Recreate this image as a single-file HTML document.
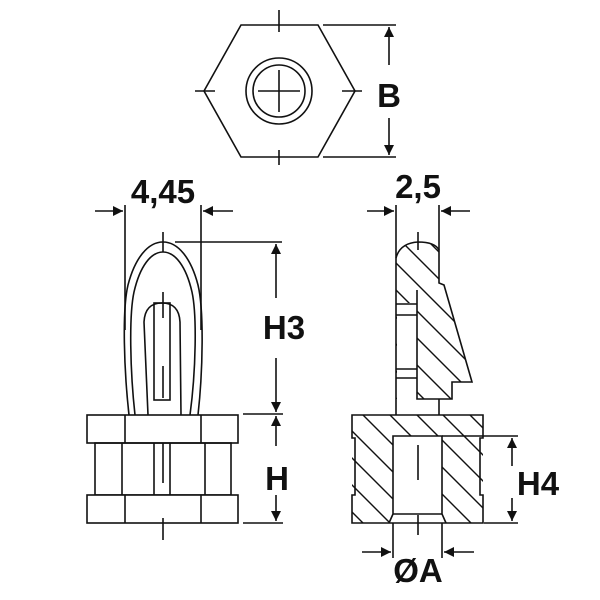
<!DOCTYPE html>
<html><head><meta charset="utf-8"><style>html,body{margin:0;padding:0;background:#fff}svg{display:block}</style></head><body>
<svg width="600" height="600" viewBox="0 0 600 600" xmlns="http://www.w3.org/2000/svg" font-family="Liberation Sans, Arial, sans-serif" font-weight="bold">
<defs>
<marker id="ar" viewBox="0 0 10 10" refX="10" refY="5" markerWidth="10" markerHeight="10" markerUnits="userSpaceOnUse" orient="auto"><path d="M0,0 L10,5 L0,10 z" fill="#111"/></marker>
<clipPath id="pinclip"><path d="M396,258 Q400,243 418,242 Q435,242 439,250 L439,283 L444,285 L472,382 L452,382 L452,399 L396,399 Z"/></clipPath>
<clipPath id="baseclip"><path d="M352,415 H483 V523 H352 Z M393,436 V514 L389,523 H446 L442,514 V436 Z" clip-rule="evenodd"/></clipPath>
</defs>
<g stroke="#111" stroke-width="1.6" fill="none">
<!-- hex -->
<polygon points="241,25 318,25 355,91 318,157 241,157 204,91" fill="#fff"/>
<circle cx="279" cy="91" r="33"/><circle cx="279" cy="91" r="26"/>
<line x1="258" y1="91" x2="300" y2="91"/><line x1="279" y1="70" x2="279" y2="112"/>
<line x1="279" y1="10" x2="279" y2="32"/><line x1="279" y1="150" x2="279" y2="165"/>
<line x1="195" y1="91" x2="215" y2="91"/><line x1="342" y1="91" x2="362" y2="91"/>
<line x1="323" y1="25" x2="396" y2="25"/><line x1="323" y1="157" x2="396" y2="157"/>
<line x1="389" y1="65" x2="389" y2="27" marker-end="url(#ar)"/>
<line x1="389" y1="118" x2="389" y2="155" marker-end="url(#ar)"/>

<!-- left view -->
<line x1="125" y1="205" x2="125" y2="330"/><line x1="201" y1="205" x2="201" y2="330"/>
<line x1="95" y1="211" x2="123" y2="211" marker-end="url(#ar)"/>
<line x1="233" y1="211" x2="203" y2="211" marker-end="url(#ar)"/>
<path d="M129,415 C124,370 122,310 128,285 C135,258 148,242 163,242 C178,242 191,258 198,285 C204,310 203,370 198,415"/>
<path d="M135,415 C130,370 129,315 134,292 C140,266 151,252 163,252 C175,252 186,266 192,292 C197,315 196,370 190,415"/>
<path d="M148,415 L144,322 Q145,303 162,303 Q179,303 180,322 L181,415"/>
<rect x="154" y="303" width="16" height="97"/>
<line x1="163" y1="232" x2="163" y2="252"/><line x1="163" y1="292" x2="163" y2="318"/><line x1="163" y1="366" x2="163" y2="398"/>
<rect x="87" y="415" width="151" height="28" fill="#fff"/><line x1="125" y1="415" x2="125" y2="443"/><line x1="201" y1="415" x2="201" y2="443"/>
<rect x="95" y="443" width="136" height="52"/>
<line x1="122" y1="443" x2="122" y2="495"/><line x1="154" y1="443" x2="154" y2="495"/><line x1="170" y1="443" x2="170" y2="495"/><line x1="205" y1="443" x2="205" y2="495"/>
<line x1="163" y1="443" x2="163" y2="483"/>
<rect x="87" y="495" width="151" height="28" fill="#fff"/><line x1="125" y1="495" x2="125" y2="523"/><line x1="201" y1="495" x2="201" y2="523"/>
<line x1="163" y1="518" x2="163" y2="540"/>
<line x1="175" y1="242" x2="282" y2="242"/><line x1="243" y1="414" x2="283" y2="414"/><line x1="243" y1="523" x2="283" y2="523"/>
<line x1="276" y1="298" x2="276" y2="244" marker-end="url(#ar)"/>
<line x1="276" y1="358" x2="276" y2="412" marker-end="url(#ar)"/>
<line x1="276" y1="446" x2="276" y2="416" marker-end="url(#ar)"/>
<line x1="276" y1="495" x2="276" y2="521" marker-end="url(#ar)"/>

<!-- right view -->
<line x1="396" y1="205" x2="396" y2="258"/><line x1="439" y1="205" x2="439" y2="250"/>
<line x1="367" y1="211" x2="394" y2="211" marker-end="url(#ar)"/>
<line x1="470" y1="211" x2="441" y2="211" marker-end="url(#ar)"/>
<g clip-path="url(#pinclip)" stroke-width="1.4">
<line x1="380" y1="220" x2="580" y2="420"/><line x1="353" y1="220" x2="553" y2="420"/><line x1="326" y1="220" x2="526" y2="420"/><line x1="299" y1="220" x2="499" y2="420"/><line x1="272" y1="220" x2="472" y2="420"/><line x1="245" y1="220" x2="445" y2="420"/><line x1="218" y1="220" x2="418" y2="420"/><line x1="407" y1="220" x2="607" y2="420"/>
</g>
<rect x="397" y="303" width="20" height="96" fill="#fff" stroke="none"/>
<path d="M396,258 Q400,243 418,242 Q435,242 439,250 L439,283 L444,285 L472,382 L452,382 L452,399 L417,399 L417,290"/>
<line x1="396" y1="258" x2="396" y2="415"/><line x1="439" y1="399" x2="439" y2="415"/>
<line x1="396" y1="304" x2="417" y2="304"/><line x1="396" y1="315" x2="417" y2="315"/>
<line x1="396" y1="369" x2="417" y2="369"/><line x1="396" y1="378" x2="417" y2="378"/>
<line x1="418" y1="232" x2="418" y2="250"/>
<g clip-path="url(#baseclip)" stroke-width="1.4">
<line x1="309" y1="415" x2="459" y2="565"/><line x1="336" y1="415" x2="486" y2="565"/><line x1="363" y1="415" x2="513" y2="565"/><line x1="390" y1="415" x2="540" y2="565"/><line x1="417" y1="415" x2="567" y2="565"/><line x1="443" y1="415" x2="593" y2="565"/><line x1="470" y1="415" x2="620" y2="565"/><line x1="282" y1="415" x2="432" y2="565"/><line x1="255" y1="415" x2="405" y2="565"/>
</g>
<path d="M352,415 H483 V438 H480 V495 H483 V523 H352 V495 H355 V438 H352 Z"/>
<path d="M393,514 V436 H442 V514 L446,523 M393,514 L389,523 M393,514 H442"/>
<line x1="418" y1="445" x2="418" y2="480"/>
<line x1="418" y1="515" x2="418" y2="535"/>
<line x1="442" y1="436" x2="518" y2="436"/><line x1="484" y1="523" x2="518" y2="523"/>
<line x1="512" y1="466" x2="512" y2="438" marker-end="url(#ar)"/>
<line x1="512" y1="498" x2="512" y2="521" marker-end="url(#ar)"/>
<line x1="393" y1="523" x2="393" y2="558"/><line x1="442" y1="523" x2="442" y2="558"/>
<line x1="362" y1="552" x2="391" y2="552" marker-end="url(#ar)"/>
<line x1="474" y1="552" x2="444" y2="552" marker-end="url(#ar)"/>
</g>
<g fill="#111" font-size="33">
<text x="389" y="107" text-anchor="middle">B</text>
<text x="163" y="203" text-anchor="middle">4,45</text>
<text x="418" y="198" text-anchor="middle">2,5</text>
<text x="284" y="339" text-anchor="middle">H3</text>
<text x="277" y="490" text-anchor="middle">H</text>
<text x="538" y="495" text-anchor="middle">H4</text>
<text x="418" y="582" text-anchor="middle">ØA</text>
</g>
</svg>
</body></html>
